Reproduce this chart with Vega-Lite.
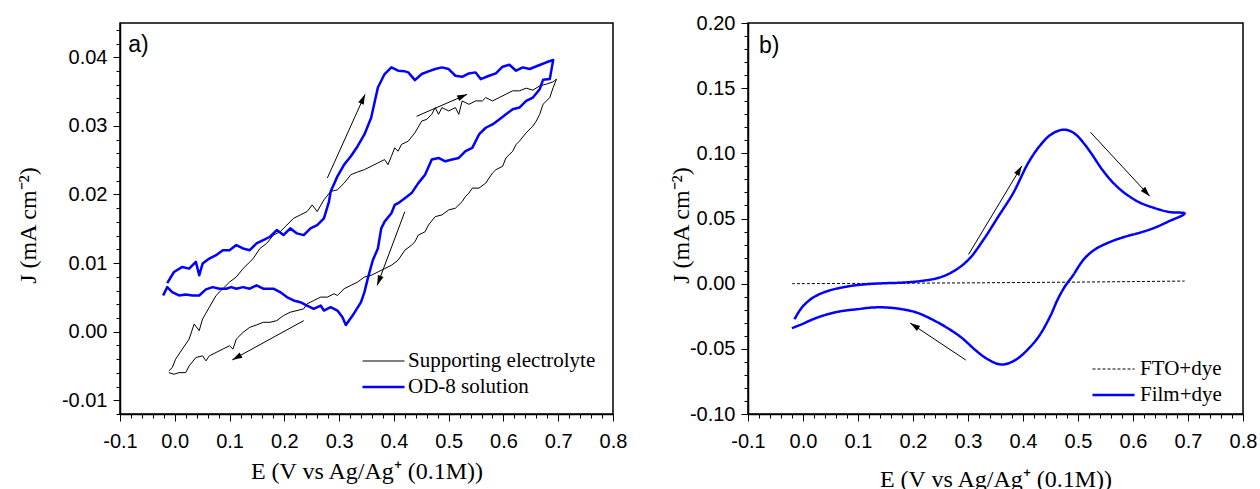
{
"$schema": "https://vega.github.io/schema/vega-lite/v6.json",
"padding": {"left": 15, "top": 12, "right": 5, "bottom": 0},
"background": "white",
"config": {
 "view": {"stroke": "black", "strokeWidth": 1.5},
 "axis": {"grid": false, "domainColor": "black", "domainWidth": 1.5, "tickColor": "black", "tickWidth": 1, "labelColor": "black", "titleColor": "black", "labelFont": "Liberation Sans", "labelFontSize": 20, "titleFont": "Liberation Serif", "titleFontSize": 24, "titleFontWeight": "normal", "labelFlush": false, "labelBound": false},
 "legend": {"orient": "none", "title": null, "symbolType": "stroke", "symbolSize": 1764, "clipHeight": 26, "rowPadding": 0, "labelFont": "Liberation Serif", "labelFontSize": 21, "labelColor": "black", "labelLimit": 400}
},
"spacing": 135,
"bounds": "flush",
"resolve": {"scale": {"color": "independent", "strokeWidth": "independent", "strokeDash": "independent", "x": "independent", "y": "independent"}, "legend": {"color": "independent", "strokeWidth": "independent", "strokeDash": "independent"}},
"hconcat": [
{
 "width": 493, "height": 391,
 "layer": [
  {"data": {"name": "left"}, "mark": {"type": "line", "strokeJoin": "round"},
   "encoding": {
    "x": {"field": "E", "type": "quantitative", "scale": {"domain": [-0.1, 0.8], "nice": false, "zero": false},
      "axis": {"title": "E (V vs Ag/Ag⁺ (0.1M))", "tickCount": 500, "values": [-0.1,-0.08,-0.06,-0.04,-0.02,0,0.02,0.04,0.06,0.08,0.1,0.12,0.14,0.16,0.18,0.2,0.22,0.24,0.26,0.28,0.3,0.32,0.34,0.36,0.38,0.4,0.42,0.44,0.46,0.48,0.5,0.52,0.54,0.56,0.58,0.6,0.62,0.64,0.66,0.68,0.7,0.72,0.74,0.76,0.78,0.8],
       "labelExpr": "abs(datum.value*10 - round(datum.value*10)) < 0.000001 ? replace(format(datum.value, '.1f'), '−', '-') : ''",
       "tickSize": {"condition": {"test": "abs(datum.value*10 - round(datum.value*10)) < 0.000001", "value": 7}, "value": 4},
       "labelOverlap": {"expr": "false"}, "labelPadding": 10, "titleBaseline": "middle", "titleY": 57}},
    "y": {"field": "J", "type": "quantitative", "scale": {"domain": [-0.012, 0.045], "nice": false, "zero": false},
      "axis": {"title": "J (mA cm⁻²)", "tickCount": 500, "values": [-0.012,-0.01,-0.008,-0.006,-0.004,-0.002,0,0.002,0.004,0.006,0.008,0.01,0.012,0.014,0.016,0.018,0.02,0.022,0.024,0.026,0.028,0.03,0.032,0.034,0.036,0.038,0.04,0.042,0.044],
       "labelExpr": "abs(datum.value*100 - round(datum.value*100)) < 0.000001 ? replace(format(datum.value, '.2f'), '−', '-') : ''",
       "tickSize": {"condition": {"test": "abs(datum.value*100 - round(datum.value*100)) < 0.000001", "value": 7}, "value": 4},
       "labelOverlap": {"expr": "false"}, "labelPadding": 6, "titleBaseline": "middle", "titleX": -92, "titleY": 202}},
    "color": {"field": "s", "type": "nominal", "scale": {"domain": ["Supporting electrolyte", "OD-8 solution"], "range": ["black", "#0000ff"]}, "legend": {"legendX": 241, "legendY": 325, "labelOffset": 2}},
    "strokeWidth": {"field": "s", "type": "ordinal", "scale": {"domain": ["Supporting electrolyte", "OD-8 solution"], "range": [1, 2.5]}, "legend": {"legendX": 241, "legendY": 325, "labelOffset": 2}},
    "order": {"value": null}
   }},
  {"data": {"name": "arrowsL"}, "mark": {"type": "rule", "color": "black", "strokeWidth": 1},
   "encoding": {"x": {"field": "E1", "type": "quantitative"}, "y": {"field": "J1", "type": "quantitative"}, "x2": {"field": "E2"}, "y2": {"field": "J2"}}},
  {"data": {"name": "arrowsL"}, "transform": [{"calculate": "atan2((datum.E2-datum.E1)*547.8, (datum.J2-datum.J1)*6860)*180/PI + 360", "as": "ang"}],
   "mark": {"type": "point", "shape": "M0,0L0.3,1L-0.3,1Z", "filled": true, "color": "black", "size": 400, "opacity": 1},
   "encoding": {"x": {"field": "E2", "type": "quantitative"}, "y": {"field": "J2", "type": "quantitative"}, "angle": {"field": "ang", "type": "quantitative", "scale": null}}},
  {"data": {"values": [{"E": -0.085, "J": 0.0418, "t": "a)"}]}, "mark": {"type": "text", "align": "left", "baseline": "middle", "font": "Liberation Sans", "fontSize": 23, "color": "black"},
   "encoding": {"x": {"field": "E", "type": "quantitative"}, "y": {"field": "J", "type": "quantitative"}, "text": {"field": "t"}}}
 ]
},
{
 "width": 495, "height": 391,
 "layer": [
  {"data": {"name": "right"}, "mark": {"type": "line", "interpolate": "catmull-rom", "strokeJoin": "round"},
   "encoding": {
    "x": {"field": "E", "type": "quantitative", "scale": {"domain": [-0.1, 0.8], "nice": false, "zero": false},
      "axis": {"title": "E (V vs Ag/Ag⁺ (0.1M))", "tickCount": 500, "values": [-0.1,-0.08,-0.06,-0.04,-0.02,0,0.02,0.04,0.06,0.08,0.1,0.12,0.14,0.16,0.18,0.2,0.22,0.24,0.26,0.28,0.3,0.32,0.34,0.36,0.38,0.4,0.42,0.44,0.46,0.48,0.5,0.52,0.54,0.56,0.58,0.6,0.62,0.64,0.66,0.68,0.7,0.72,0.74,0.76,0.78,0.8],
       "labelExpr": "abs(datum.value*10 - round(datum.value*10)) < 0.000001 ? replace(format(datum.value, '.1f'), '−', '-') : ''",
       "tickSize": {"condition": {"test": "abs(datum.value*10 - round(datum.value*10)) < 0.000001", "value": 7}, "value": 4},
       "labelOverlap": {"expr": "false"}, "labelPadding": 10, "titleBaseline": "middle", "titleY": 65}},
    "y": {"field": "J", "type": "quantitative", "scale": {"domain": [-0.1, 0.2], "nice": false, "zero": false},
      "axis": {"title": "J (mA cm⁻²)", "tickCount": 500, "values": [-0.1,-0.09,-0.08,-0.07,-0.06,-0.05,-0.04,-0.03,-0.02,-0.01,0,0.01,0.02,0.03,0.04,0.05,0.06,0.07,0.08,0.09,0.1,0.11,0.12,0.13,0.14,0.15,0.16,0.17,0.18,0.19,0.2],
       "labelExpr": "abs(datum.value*20 - round(datum.value*20)) < 0.000001 ? replace(format(datum.value, '.2f'), '−', '-') : ''",
       "tickSize": {"condition": {"test": "abs(datum.value*20 - round(datum.value*20)) < 0.000001", "value": 7}, "value": 4},
       "labelOverlap": {"expr": "false"}, "labelPadding": 6, "titleBaseline": "middle", "titleX": -67, "titleY": 202}},
    "color": {"field": "s", "type": "nominal", "scale": {"domain": ["FTO+dye", "Film+dye"], "range": ["black", "#0000ff"]}, "legend": {"legendX": 343, "legendY": 333, "labelOffset": 4}},
    "strokeWidth": {"field": "s", "type": "ordinal", "scale": {"domain": ["FTO+dye", "Film+dye"], "range": [1, 2.5]}, "legend": {"legendX": 343, "legendY": 333, "labelOffset": 4}},
    "strokeDash": {"field": "s", "type": "nominal", "scale": {"domain": ["FTO+dye", "Film+dye"], "range": [[3, 2], [1, 0]]}, "legend": {"legendX": 343, "legendY": 333, "labelOffset": 4}},
    "order": {"value": null}
   }},
  {"data": {"name": "arrowsR"}, "mark": {"type": "rule", "color": "black", "strokeWidth": 1},
   "encoding": {"x": {"field": "E1", "type": "quantitative"}, "y": {"field": "J1", "type": "quantitative"}, "x2": {"field": "E2"}, "y2": {"field": "J2"}}},
  {"data": {"name": "arrowsR"}, "transform": [{"calculate": "atan2((datum.E2-datum.E1)*550, (datum.J2-datum.J1)*1303)*180/PI + 360", "as": "ang"}],
   "mark": {"type": "point", "shape": "M0,0L0.3,1L-0.3,1Z", "filled": true, "color": "black", "size": 400, "opacity": 1},
   "encoding": {"x": {"field": "E2", "type": "quantitative"}, "y": {"field": "J2", "type": "quantitative"}, "angle": {"field": "ang", "type": "quantitative", "scale": null}}},
  {"data": {"values": [{"E": -0.08, "J": 0.182, "t": "b)"}]}, "mark": {"type": "text", "align": "left", "baseline": "middle", "font": "Liberation Sans", "fontSize": 23, "color": "black"},
   "encoding": {"x": {"field": "E", "type": "quantitative"}, "y": {"field": "J", "type": "quantitative"}, "text": {"field": "t"}}}
 ]
}
],
"datasets": {
 "arrowsL": [
  {"E1": 0.2785, "J1": 0.0224, "E2": 0.3474, "J2": 0.0346},
  {"E1": 0.4415, "J1": 0.0314, "E2": 0.5338, "J2": 0.0346},
  {"E1": 0.42, "J1": 0.0175, "E2": 0.3695, "J2": 0.00675},
  {"E1": 0.2354, "J1": 0.00161, "E2": 0.1049, "J2": -0.00411}
 ],
 "arrowsR": [
  {"E1": 0.301, "J1": 0.0224, "E2": 0.398, "J2": 0.0904},
  {"E1": 0.5226, "J1": 0.1162, "E2": 0.6305, "J2": 0.0671},
  {"E1": 0.296, "J1": -0.0586, "E2": 0.1949, "J2": -0.0302}
 ],
 "right": [
  {"s":"FTO+dye","E":-0.02,"J":0.0},{"s":"FTO+dye","E":0.1,"J":0.0002},{"s":"FTO+dye","E":0.2,"J":0.0004},{"s":"FTO+dye","E":0.3,"J":0.0006},{"s":"FTO+dye","E":0.4,"J":0.0009},{"s":"FTO+dye","E":0.5,"J":0.0012},{"s":"FTO+dye","E":0.6,"J":0.0016},{"s":"FTO+dye","E":0.694,"J":0.002},
  {"s":"Film+dye","E":-0.0155,"J":-0.0273},{"s":"Film+dye","E":-0.002,"J":-0.0183},{"s":"Film+dye","E":0.0182,"J":-0.0107},{"s":"Film+dye","E":0.0452,"J":-0.0056},{"s":"Film+dye","E":0.0789,"J":-0.0023},{"s":"Film+dye","E":0.1126,"J":-0.0005},{"s":"Film+dye","E":0.1463,"J":0.0003},{"s":"Film+dye","E":0.18,"J":0.0008},{"s":"Film+dye","E":0.2137,"J":0.002},{"s":"Film+dye","E":0.2475,"J":0.0046},{"s":"Film+dye","E":0.2744,"J":0.0097},{"s":"Film+dye","E":0.3014,"J":0.0186},{"s":"Film+dye","E":0.3284,"J":0.0339},{"s":"Film+dye","E":0.3554,"J":0.0517},{"s":"Film+dye","E":0.3823,"J":0.0696},{"s":"Film+dye","E":0.4093,"J":0.0925},{"s":"Film+dye","E":0.4295,"J":0.1052},{"s":"Film+dye","E":0.4498,"J":0.1141},{"s":"Film+dye","E":0.47,"J":0.118},{"s":"Film+dye","E":0.4835,"J":0.1175},{"s":"Film+dye","E":0.497,"J":0.1141},{"s":"Film+dye","E":0.5104,"J":0.1078},{"s":"Film+dye","E":0.5239,"J":0.1001},{"s":"Film+dye","E":0.5442,"J":0.0874},{"s":"Film+dye","E":0.5644,"J":0.0772},{"s":"Film+dye","E":0.5846,"J":0.0696},{"s":"Film+dye","E":0.6116,"J":0.0624},{"s":"Film+dye","E":0.6386,"J":0.0581},{"s":"Film+dye","E":0.6655,"J":0.055},{"s":"Film+dye","E":0.6939,"J":0.0538},
  {"s":"Film+dye","E":0.6655,"J":0.0479},{"s":"Film+dye","E":0.6386,"J":0.0428},{"s":"Film+dye","E":0.6116,"J":0.039},{"s":"Film+dye","E":0.5846,"J":0.0359},{"s":"Film+dye","E":0.5577,"J":0.0319},{"s":"Film+dye","E":0.5307,"J":0.0262},{"s":"Film+dye","E":0.5104,"J":0.0186},{"s":"Film+dye","E":0.4902,"J":0.0059},{"s":"Film+dye","E":0.4767,"J":-0.0018},{"s":"Film+dye","E":0.4632,"J":-0.012},{"s":"Film+dye","E":0.4498,"J":-0.0247},{"s":"Film+dye","E":0.4295,"J":-0.04},{"s":"Film+dye","E":0.4093,"J":-0.0502},{"s":"Film+dye","E":0.3891,"J":-0.0578},{"s":"Film+dye","E":0.3688,"J":-0.0617},{"s":"Film+dye","E":0.3554,"J":-0.0617},{"s":"Film+dye","E":0.3351,"J":-0.0578},{"s":"Film+dye","E":0.3149,"J":-0.0515},{"s":"Film+dye","E":0.2879,"J":-0.0413},{"s":"Film+dye","E":0.261,"J":-0.0336},{"s":"Film+dye","E":0.234,"J":-0.0273},{"s":"Film+dye","E":0.207,"J":-0.0222},{"s":"Film+dye","E":0.18,"J":-0.0196},{"s":"Film+dye","E":0.1531,"J":-0.0183},{"s":"Film+dye","E":0.1261,"J":-0.0183},{"s":"Film+dye","E":0.0991,"J":-0.0196},{"s":"Film+dye","E":0.0722,"J":-0.0209},{"s":"Film+dye","E":0.0452,"J":-0.0234},{"s":"Film+dye","E":0.0182,"J":-0.0273},{"s":"Film+dye","E":-0.002,"J":-0.0311},{"s":"Film+dye","E":-0.0202,"J":-0.0341}
 ],
 "left": [
  {"s":"Supporting electrolyte","E":-0.0108,"J":-0.00572},{"s":"Supporting electrolyte","E":-0.0046,"J":-0.00523},{"s":"Supporting electrolyte","E":0.0015,"J":-0.00401},{"s":"Supporting electrolyte","E":0.0138,"J":-0.00254},{"s":"Supporting electrolyte","E":0.0262,"J":-0.00108},{"s":"Supporting electrolyte","E":0.0354,"J":0.00112},{"s":"Supporting electrolyte","E":0.0446,"J":0.00015},{"s":"Supporting electrolyte","E":0.0508,"J":0.00186},{"s":"Supporting electrolyte","E":0.0631,"J":0.00357},{"s":"Supporting electrolyte","E":0.0754,"J":0.00528},{"s":"Supporting electrolyte","E":0.0877,"J":0.00626},{"s":"Supporting electrolyte","E":0.1,"J":0.00724},{"s":"Supporting electrolyte","E":0.1123,"J":0.00797},{"s":"Supporting electrolyte","E":0.1246,"J":0.00919},{"s":"Supporting electrolyte","E":0.1369,"J":0.01017},{"s":"Supporting electrolyte","E":0.1431,"J":0.01066},{"s":"Supporting electrolyte","E":0.1554,"J":0.01213},{"s":"Supporting electrolyte","E":0.1677,"J":0.01286},{"s":"Supporting electrolyte","E":0.18,"J":0.01408},{"s":"Supporting electrolyte","E":0.1923,"J":0.01457},{"s":"Supporting electrolyte","E":0.2046,"J":0.01555},{"s":"Supporting electrolyte","E":0.2169,"J":0.01653},{"s":"Supporting electrolyte","E":0.2292,"J":0.01702},{"s":"Supporting electrolyte","E":0.2415,"J":0.01751},{"s":"Supporting electrolyte","E":0.2508,"J":0.01848},{"s":"Supporting electrolyte","E":0.26,"J":0.01751},{"s":"Supporting electrolyte","E":0.2723,"J":0.01922},{"s":"Supporting electrolyte","E":0.2846,"J":0.02044},{"s":"Supporting electrolyte","E":0.2969,"J":0.02068},{"s":"Supporting electrolyte","E":0.3092,"J":0.02166},{"s":"Supporting electrolyte","E":0.3215,"J":0.02289},{"s":"Supporting electrolyte","E":0.3338,"J":0.02328},{"s":"Supporting electrolyte","E":0.3462,"J":0.02362},{"s":"Supporting electrolyte","E":0.3585,"J":0.02411},{"s":"Supporting electrolyte","E":0.3708,"J":0.0246},{"s":"Supporting electrolyte","E":0.3831,"J":0.02509},{"s":"Supporting electrolyte","E":0.3892,"J":0.02435},{"s":"Supporting electrolyte","E":0.3954,"J":0.02557},{"s":"Supporting electrolyte","E":0.4015,"J":0.0268},{"s":"Supporting electrolyte","E":0.4077,"J":0.02631},{"s":"Supporting electrolyte","E":0.4138,"J":0.02729},{"s":"Supporting electrolyte","E":0.4262,"J":0.02778},{"s":"Supporting electrolyte","E":0.4385,"J":0.029},{"s":"Supporting electrolyte","E":0.4508,"J":0.03071},{"s":"Supporting electrolyte","E":0.46,"J":0.03095},{"s":"Supporting electrolyte","E":0.4692,"J":0.03169},{"s":"Supporting electrolyte","E":0.4754,"J":0.03267},{"s":"Supporting electrolyte","E":0.4815,"J":0.03169},{"s":"Supporting electrolyte","E":0.4877,"J":0.03267},{"s":"Supporting electrolyte","E":0.5,"J":0.03218},{"s":"Supporting electrolyte","E":0.5123,"J":0.03267},{"s":"Supporting electrolyte","E":0.5185,"J":0.03169},{"s":"Supporting electrolyte","E":0.5246,"J":0.03364},{"s":"Supporting electrolyte","E":0.5369,"J":0.03315},{"s":"Supporting electrolyte","E":0.5492,"J":0.03364},{"s":"Supporting electrolyte","E":0.5615,"J":0.03364},{"s":"Supporting electrolyte","E":0.5677,"J":0.03413},{"s":"Supporting electrolyte","E":0.58,"J":0.03364},{"s":"Supporting electrolyte","E":0.5923,"J":0.03413},{"s":"Supporting electrolyte","E":0.6046,"J":0.03462},{"s":"Supporting electrolyte","E":0.6169,"J":0.03511},{"s":"Supporting electrolyte","E":0.6292,"J":0.03511},{"s":"Supporting electrolyte","E":0.6415,"J":0.0355},{"s":"Supporting electrolyte","E":0.6538,"J":0.03521},{"s":"Supporting electrolyte","E":0.6662,"J":0.03584},{"s":"Supporting electrolyte","E":0.6785,"J":0.03609},{"s":"Supporting electrolyte","E":0.6908,"J":0.03643},{"s":"Supporting electrolyte","E":0.6969,"J":0.03682},
  {"s":"Supporting electrolyte","E":0.6908,"J":0.0356},{"s":"Supporting electrolyte","E":0.6846,"J":0.03413},{"s":"Supporting electrolyte","E":0.6723,"J":0.03315},{"s":"Supporting electrolyte","E":0.6662,"J":0.03169},{"s":"Supporting electrolyte","E":0.66,"J":0.03071},{"s":"Supporting electrolyte","E":0.6538,"J":0.02998},{"s":"Supporting electrolyte","E":0.6415,"J":0.029},{"s":"Supporting electrolyte","E":0.6292,"J":0.02778},{"s":"Supporting electrolyte","E":0.6231,"J":0.02729},{"s":"Supporting electrolyte","E":0.6169,"J":0.02631},{"s":"Supporting electrolyte","E":0.6046,"J":0.02533},{"s":"Supporting electrolyte","E":0.5985,"J":0.02411},{"s":"Supporting electrolyte","E":0.5862,"J":0.02362},{"s":"Supporting electrolyte","E":0.58,"J":0.02313},{"s":"Supporting electrolyte","E":0.5738,"J":0.0224},{"s":"Supporting electrolyte","E":0.5677,"J":0.02166},{"s":"Supporting electrolyte","E":0.5554,"J":0.02093},{"s":"Supporting electrolyte","E":0.5431,"J":0.02093},{"s":"Supporting electrolyte","E":0.5369,"J":0.0202},{"s":"Supporting electrolyte","E":0.5308,"J":0.01971},{"s":"Supporting electrolyte","E":0.5246,"J":0.01897},{"s":"Supporting electrolyte","E":0.5123,"J":0.018},{"s":"Supporting electrolyte","E":0.5,"J":0.01775},{"s":"Supporting electrolyte","E":0.4877,"J":0.01702},{"s":"Supporting electrolyte","E":0.4754,"J":0.01677},{"s":"Supporting electrolyte","E":0.4631,"J":0.01555},{"s":"Supporting electrolyte","E":0.4569,"J":0.01457},{"s":"Supporting electrolyte","E":0.4446,"J":0.01408},{"s":"Supporting electrolyte","E":0.4385,"J":0.01311},{"s":"Supporting electrolyte","E":0.4323,"J":0.01262},{"s":"Supporting electrolyte","E":0.42,"J":0.01188},{"s":"Supporting electrolyte","E":0.4077,"J":0.01042},{"s":"Supporting electrolyte","E":0.3954,"J":0.00968},{"s":"Supporting electrolyte","E":0.3831,"J":0.00919},{"s":"Supporting electrolyte","E":0.3708,"J":0.0087},{"s":"Supporting electrolyte","E":0.3585,"J":0.00822},{"s":"Supporting electrolyte","E":0.3462,"J":0.00797},{"s":"Supporting electrolyte","E":0.3338,"J":0.00724},{"s":"Supporting electrolyte","E":0.3215,"J":0.00675},{"s":"Supporting electrolyte","E":0.3092,"J":0.00626},{"s":"Supporting electrolyte","E":0.2969,"J":0.00528},{"s":"Supporting electrolyte","E":0.2908,"J":0.00553},{"s":"Supporting electrolyte","E":0.2785,"J":0.00504},{"s":"Supporting electrolyte","E":0.2662,"J":0.00504},{"s":"Supporting electrolyte","E":0.2538,"J":0.00455},{"s":"Supporting electrolyte","E":0.2415,"J":0.00406},{"s":"Supporting electrolyte","E":0.2354,"J":0.00333},{"s":"Supporting electrolyte","E":0.2231,"J":0.00308},{"s":"Supporting electrolyte","E":0.2108,"J":0.00284},{"s":"Supporting electrolyte","E":0.1985,"J":0.00235},{"s":"Supporting electrolyte","E":0.1862,"J":0.00161},{"s":"Supporting electrolyte","E":0.1738,"J":0.00137},{"s":"Supporting electrolyte","E":0.1615,"J":0.00137},{"s":"Supporting electrolyte","E":0.1492,"J":0.00098},{"s":"Supporting electrolyte","E":0.1369,"J":0.00064},{"s":"Supporting electrolyte","E":0.1246,"J":-0.0001},{"s":"Supporting electrolyte","E":0.1123,"J":-0.00108},{"s":"Supporting electrolyte","E":0.1062,"J":-0.00254},{"s":"Supporting electrolyte","E":0.1,"J":-0.00205},{"s":"Supporting electrolyte","E":0.0877,"J":-0.00254},{"s":"Supporting electrolyte","E":0.0754,"J":-0.00303},{"s":"Supporting electrolyte","E":0.0631,"J":-0.00352},{"s":"Supporting electrolyte","E":0.0569,"J":-0.00425},{"s":"Supporting electrolyte","E":0.0508,"J":-0.00352},{"s":"Supporting electrolyte","E":0.0385,"J":-0.00377},{"s":"Supporting electrolyte","E":0.0262,"J":-0.00499},{"s":"Supporting electrolyte","E":0.02,"J":-0.00597},{"s":"Supporting electrolyte","E":0.0077,"J":-0.00597},{"s":"Supporting electrolyte","E":-0.0015,"J":-0.00621},{"s":"Supporting electrolyte","E":-0.0108,"J":-0.00597},
  {"s":"OD-8 solution","E":-0.0138,"J":0.00709},{"s":"OD-8 solution","E":-0.0015,"J":0.0087},{"s":"OD-8 solution","E":0.0138,"J":0.00944},{"s":"OD-8 solution","E":0.0262,"J":0.00919},{"s":"OD-8 solution","E":0.0385,"J":0.01017},{"s":"OD-8 solution","E":0.0446,"J":0.00822},{"s":"OD-8 solution","E":0.0508,"J":0.00993},{"s":"OD-8 solution","E":0.0631,"J":0.01066},{"s":"OD-8 solution","E":0.0754,"J":0.01115},{"s":"OD-8 solution","E":0.0877,"J":0.01188},{"s":"OD-8 solution","E":0.1,"J":0.01188},{"s":"OD-8 solution","E":0.1123,"J":0.01262},{"s":"OD-8 solution","E":0.1246,"J":0.01213},{"s":"OD-8 solution","E":0.1369,"J":0.01188},{"s":"OD-8 solution","E":0.1492,"J":0.01286},{"s":"OD-8 solution","E":0.1615,"J":0.01335},{"s":"OD-8 solution","E":0.1738,"J":0.01384},{"s":"OD-8 solution","E":0.1862,"J":0.01482},{"s":"OD-8 solution","E":0.1985,"J":0.01408},{"s":"OD-8 solution","E":0.2108,"J":0.01506},{"s":"OD-8 solution","E":0.2231,"J":0.01433},{"s":"OD-8 solution","E":0.2354,"J":0.01408},{"s":"OD-8 solution","E":0.2477,"J":0.01506},{"s":"OD-8 solution","E":0.26,"J":0.01555},{"s":"OD-8 solution","E":0.2723,"J":0.01653},{"s":"OD-8 solution","E":0.2815,"J":0.01897},{"s":"OD-8 solution","E":0.2846,"J":0.02044},{"s":"OD-8 solution","E":0.2969,"J":0.02264},{"s":"OD-8 solution","E":0.3092,"J":0.02435},{"s":"OD-8 solution","E":0.3215,"J":0.02557},{"s":"OD-8 solution","E":0.3338,"J":0.02704},{"s":"OD-8 solution","E":0.3462,"J":0.02875},{"s":"OD-8 solution","E":0.3585,"J":0.0312},{"s":"OD-8 solution","E":0.3708,"J":0.0356},{"s":"OD-8 solution","E":0.3831,"J":0.03756},{"s":"OD-8 solution","E":0.3954,"J":0.03853},{"s":"OD-8 solution","E":0.4077,"J":0.03804},{"s":"OD-8 solution","E":0.42,"J":0.03795},{"s":"OD-8 solution","E":0.4262,"J":0.0378},{"s":"OD-8 solution","E":0.4385,"J":0.03667},{"s":"OD-8 solution","E":0.4508,"J":0.03756},{"s":"OD-8 solution","E":0.4631,"J":0.03795},{"s":"OD-8 solution","E":0.4754,"J":0.03829},{"s":"OD-8 solution","E":0.4877,"J":0.03853},{"s":"OD-8 solution","E":0.5,"J":0.03829},{"s":"OD-8 solution","E":0.5123,"J":0.03731},{"s":"OD-8 solution","E":0.5246,"J":0.03716},{"s":"OD-8 solution","E":0.5369,"J":0.03765},{"s":"OD-8 solution","E":0.5492,"J":0.0378},{"s":"OD-8 solution","E":0.5585,"J":0.03682},{"s":"OD-8 solution","E":0.5738,"J":0.03731},{"s":"OD-8 solution","E":0.5862,"J":0.03765},{"s":"OD-8 solution","E":0.5985,"J":0.03863},{"s":"OD-8 solution","E":0.6108,"J":0.03892},{"s":"OD-8 solution","E":0.6231,"J":0.03804},{"s":"OD-8 solution","E":0.6354,"J":0.03853},{"s":"OD-8 solution","E":0.6477,"J":0.03829},{"s":"OD-8 solution","E":0.6662,"J":0.03888},{"s":"OD-8 solution","E":0.6785,"J":0.03927},{"s":"OD-8 solution","E":0.6908,"J":0.03961},
  {"s":"OD-8 solution","E":0.6846,"J":0.03682},{"s":"OD-8 solution","E":0.6723,"J":0.03672},{"s":"OD-8 solution","E":0.6662,"J":0.03535},{"s":"OD-8 solution","E":0.6538,"J":0.03413},{"s":"OD-8 solution","E":0.6415,"J":0.03364},{"s":"OD-8 solution","E":0.6292,"J":0.03267},{"s":"OD-8 solution","E":0.6169,"J":0.03242},{"s":"OD-8 solution","E":0.6046,"J":0.03169},{"s":"OD-8 solution","E":0.5923,"J":0.03095},{"s":"OD-8 solution","E":0.58,"J":0.03022},{"s":"OD-8 solution","E":0.5677,"J":0.02973},{"s":"OD-8 solution","E":0.5554,"J":0.02875},{"s":"OD-8 solution","E":0.5431,"J":0.0268},{"s":"OD-8 solution","E":0.5308,"J":0.02631},{"s":"OD-8 solution","E":0.5185,"J":0.02533},{"s":"OD-8 solution","E":0.5062,"J":0.02509},{"s":"OD-8 solution","E":0.4938,"J":0.02484},{"s":"OD-8 solution","E":0.4815,"J":0.02533},{"s":"OD-8 solution","E":0.4692,"J":0.02509},{"s":"OD-8 solution","E":0.4569,"J":0.02289},{"s":"OD-8 solution","E":0.4446,"J":0.02166},{"s":"OD-8 solution","E":0.4323,"J":0.0202},{"s":"OD-8 solution","E":0.42,"J":0.01946},{"s":"OD-8 solution","E":0.4077,"J":0.01873},{"s":"OD-8 solution","E":0.4015,"J":0.01848},{"s":"OD-8 solution","E":0.3954,"J":0.01726},{"s":"OD-8 solution","E":0.3831,"J":0.01604},{"s":"OD-8 solution","E":0.3769,"J":0.01506},{"s":"OD-8 solution","E":0.3708,"J":0.01213},{"s":"OD-8 solution","E":0.3615,"J":0.01042},{"s":"OD-8 solution","E":0.3523,"J":0.00773},{"s":"OD-8 solution","E":0.3462,"J":0.00577},{"s":"OD-8 solution","E":0.34,"J":0.0043},{"s":"OD-8 solution","E":0.3246,"J":0.00235},{"s":"OD-8 solution","E":0.3123,"J":0.00098},{"s":"OD-8 solution","E":0.3062,"J":0.0021},{"s":"OD-8 solution","E":0.2969,"J":0.00308},{"s":"OD-8 solution","E":0.2846,"J":0.00357},{"s":"OD-8 solution","E":0.2723,"J":0.00308},{"s":"OD-8 solution","E":0.2662,"J":0.00381},{"s":"OD-8 solution","E":0.2538,"J":0.00333},{"s":"OD-8 solution","E":0.2415,"J":0.00381},{"s":"OD-8 solution","E":0.2292,"J":0.0043},{"s":"OD-8 solution","E":0.2169,"J":0.00455},{"s":"OD-8 solution","E":0.2046,"J":0.00504},{"s":"OD-8 solution","E":0.1923,"J":0.00577},{"s":"OD-8 solution","E":0.18,"J":0.00626},{"s":"OD-8 solution","E":0.1615,"J":0.00626},{"s":"OD-8 solution","E":0.1492,"J":0.00675},{"s":"OD-8 solution","E":0.1369,"J":0.00626},{"s":"OD-8 solution","E":0.1246,"J":0.0065},{"s":"OD-8 solution","E":0.1123,"J":0.00626},{"s":"OD-8 solution","E":0.1031,"J":0.0065},{"s":"OD-8 solution","E":0.0938,"J":0.00626},{"s":"OD-8 solution","E":0.0815,"J":0.00626},{"s":"OD-8 solution","E":0.0692,"J":0.0065},{"s":"OD-8 solution","E":0.0569,"J":0.00616},{"s":"OD-8 solution","E":0.0446,"J":0.00528},{"s":"OD-8 solution","E":0.0323,"J":0.00528},{"s":"OD-8 solution","E":0.02,"J":0.00543},{"s":"OD-8 solution","E":0.0077,"J":0.00528},{"s":"OD-8 solution","E":-0.0046,"J":0.00577},{"s":"OD-8 solution","E":-0.0138,"J":0.0065},{"s":"OD-8 solution","E":-0.0212,"J":0.00528}
 ]
}
}
